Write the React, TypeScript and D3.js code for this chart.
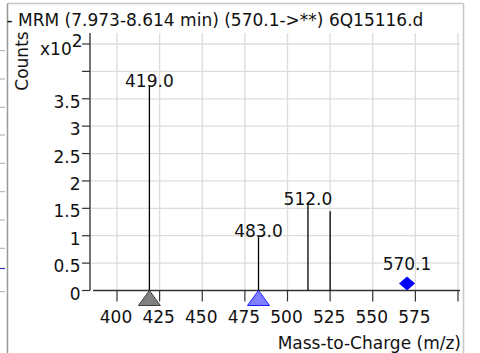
import React from "react";
import * as d3 from "d3";

const titleText = "- MRM (7.973-8.614 min) (570.1->**) 6Q15116.d";
const peakMz = [419.0, 483.0, 512.0, 525.0];
const peakCounts = [3.75, 1.0, 1.586, 1.445]; // x10^2
const peakLabels = ["419.0", "483.0", "512.0", ""];
const precursorMz = 570.1;
const precursorCounts = 0.13;
const precursorLabel = "570.1";
const grayTriangleMz = 419.0;
const blueTriangleMz = 483.0;
const xTicks = [400, 425, 450, 475, 500, 525, 550, 575, 600];
const xTickLabels = ["400", "425", "450", "475", "500", "525", "550", "575", ""];
const yTicks = [0, 0.5, 1, 1.5, 2, 2.5, 3, 3.5, 4, 4.5];
const yTickLabels = ["0", "0.5", "1", "1.5", "2", "2.5", "3", "3.5", "", ""];
const leftStubY = [50.7, 79, 107.3, 135, 163.3, 191.7, 220, 248.3, 291.7];

const W = 480;
const H = 353;
const FONT = "DejaVu Sans, Verdana, sans-serif";
const FS = 17;

export default function App() {
  const x = d3.scaleLinear().domain([400, 600]).range([117, 458]);
  const y = d3.scaleLinear().domain([0, 4.5]).range([290.5, 44]);
  const plotLeft = 90;
  const plotRight = 460;
  const plotTop = 33;
  const y0 = y(0);

  const tri = (cx: number) => `M${cx},${y0} L${cx - 11},${y0 + 15} L${cx + 11},${y0 + 15} Z`;
  const dx = x(precursorMz);
  const dy = y(precursorCounts);

  return (
    <div style={{ position: "fixed", left: 0, top: 0, width: W, height: H, background: "#fff" }}>
      <svg width={W} height={H} style={{ display: "block" }} fontFamily={FONT}>
        <rect x={0} y={0} width={W} height={H} fill="#fff" />
        {/* panel borders */}
        <line x1={7.5} x2={463.5} y1={3.5} y2={3.5} stroke="#c8c8c8" strokeWidth={1.5} />
        <line x1={463.5} x2={463.5} y1={3.5} y2={H} stroke="#c8c8c8" strokeWidth={1.5} />
        <line x1={7.5} x2={7.5} y1={3.5} y2={H} stroke="#999" strokeWidth={1.5} />
        {leftStubY.map((v, i) => (
          <line key={i} x1={0} x2={5} y1={v} y2={v} stroke="#aaa" strokeWidth={1} />
        ))}
        <line x1={0} x2={5} y1={268.5} y2={268.5} stroke="#3030c0" strokeWidth={1.2} />

        {/* grid */}
        {xTicks.map((t) => (
          <line key={"gx" + t} x1={x(t)} x2={x(t)} y1={plotTop} y2={y0} stroke="#dcdcdc" strokeWidth={1.3} />
        ))}
        {yTicks.slice(1).map((t) => (
          <line key={"gy" + t} x1={plotLeft} x2={plotRight} y1={y(t)} y2={y(t)} stroke="#dcdcdc" strokeWidth={1.3} />
        ))}

        {/* y axis */}
        <line x1={plotLeft} x2={plotLeft} y1={plotTop} y2={y0} stroke="#666" strokeWidth={1.8} />
        {yTicks.map((t, i) => (
          <g key={"yt" + t}>
            <line x1={plotLeft - 8} x2={plotLeft} y1={y(t)} y2={y(t)} stroke="#333" strokeWidth={1.2} />
            {yTickLabels[i] && (
              <text x={80.5} y={y(t) + 9} textAnchor="end" fontSize={FS} fill="#111">
                {yTickLabels[i]}
              </text>
            )}
          </g>
        ))}
        <text x={40} y={55} fontSize={FS} fill="#111">
          x10<tspan dy={-8} fontSize={FS}>2</tspan>
        </text>
        <text transform={`translate(27.5,61) rotate(-90)`} textAnchor="middle" fontSize={FS} fill="#111">
          Counts
        </text>

        {/* x axis */}
        <line x1={93} x2={plotRight} y1={y0} y2={y0} stroke="#333" strokeWidth={1.5} />
        {xTicks.map((t, i) => (
          <g key={"xt" + t}>
            <line x1={x(t)} x2={x(t)} y1={y0} y2={y0 + 11} stroke="#333" strokeWidth={1.2} />
            {xTickLabels[i] && (
              <text x={x(t) - 1} y={322.5} textAnchor="middle" fontSize={FS} fill="#111">
                {xTickLabels[i]}
              </text>
            )}
          </g>
        ))}
        <text x={461} y={348.5} textAnchor="end" fontSize={FS} fill="#111">
          Mass-to-Charge (m/z)
        </text>

        {/* peaks */}
        {peakMz.map((m, i) => (
          <g key={"p" + m}>
            <line x1={x(m)} x2={x(m)} y1={y0} y2={y(peakCounts[i])} stroke="#000" strokeWidth={1.3} />
            {peakLabels[i] && (
              <text x={x(m)} y={y(peakCounts[i]) + 1.5} textAnchor="middle" fontSize={FS} fill="#111">
                {peakLabels[i]}
              </text>
            )}
          </g>
        ))}

        {/* markers */}
        <path d={tri(x(grayTriangleMz))} fill="#808080" stroke="#404040" strokeWidth={1} />
        <path d={tri(x(blueTriangleMz))} fill="#7f7fff" stroke="#1a1aff" strokeWidth={1} />
        <path d={`M${dx},${dy - 7} L${dx + 8},${dy} L${dx},${dy + 7} L${dx - 8},${dy} Z`} fill="#0000ff" />
        <text x={dx} y={dy - 13} textAnchor="middle" fontSize={FS} fill="#111">
          {precursorLabel}
        </text>

        {/* title */}
        <text x={6.5} y={26} fontSize={FS} fill="#111">
          {titleText}
        </text>
      </svg>
    </div>
  );
}
